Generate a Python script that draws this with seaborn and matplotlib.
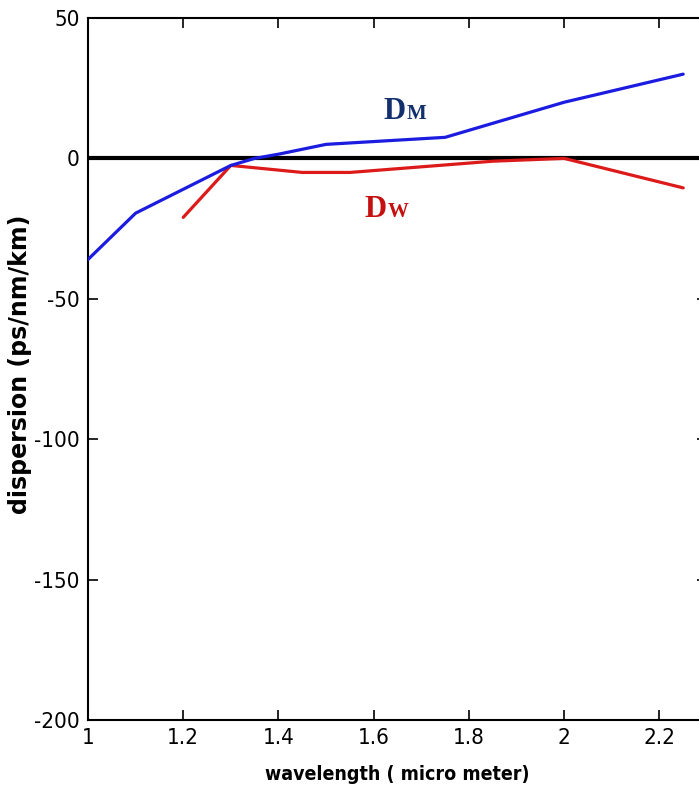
import matplotlib
matplotlib.use("Agg")
import matplotlib.pyplot as plt
import seaborn as sns
import pandas as pd

# dispersion data (ps/nm/km) vs wavelength (micro meter)
wl_m = [1.0, 1.1, 1.2, 1.3, 1.35, 1.4, 1.5, 1.75, 2.0, 2.25]
d_m = [-36, -19.5, -11, -2.5, 0, 1.5, 5, 7.5, 20, 30]

wl_w = [1.2, 1.3, 1.45, 1.55, 1.85, 2.0, 2.25]
d_w = [-21, -2.5, -5, -5, -1, 0, -10.5]

xticks = [1, 1.2, 1.4, 1.6, 1.8, 2, 2.2]
xtick_labels = ["1", "1.2", "1.4", "1.6", "1.8", "2", "2.2"]
yticks = [50, 0, -50, -100, -150, -200]

sns.set_style("ticks")
plt.rcParams["font.family"] = ["DejaVu Sans"]
plt.rcParams["axes.unicode_minus"] = False
plt.rcParams["text.color"] = "black"

df_m = pd.DataFrame({"wavelength": wl_m, "dispersion": d_m})
df_w = pd.DataFrame({"wavelength": wl_w, "dispersion": d_w})

fig = plt.figure(figsize=(6.99, 7.96), dpi=100)
ax = fig.add_axes([88 / 699, 76 / 796, 619 / 699, 702 / 796])

ax.axhline(0, color="black", lw=3, zorder=1)
sns.lineplot(data=df_m, x="wavelength", y="dispersion", color="#1c1ce0", lw=2.3, ax=ax, zorder=3)
sns.lineplot(data=df_w, x="wavelength", y="dispersion", color="#dd1a1a", lw=2.3, ax=ax, zorder=2)

ax.set_xlim(1, 2.3)
ax.set_ylim(-200, 50)
ax.set_xticks(xticks)
ax.set_xticklabels(xtick_labels)
ax.set_yticks(yticks)
ax.tick_params(direction="in", length=7, width=1.2, top=True, right=True,
               labelsize=16, pad=6, colors="black")
for lab in ax.get_xticklabels() + ax.get_yticklabels():
    lab.set_fontstretch("condensed")
for sp in ax.spines.values():
    sp.set_linewidth(1.5)
    sp.set_color("black")
    sp.set_visible(True)

ax.set_xlabel("wavelength ( micro meter)", fontsize=14, fontweight="bold",
              fontstretch="condensed", color="black")
ax.xaxis.set_label_coords(0.5, -0.064)
ax.set_ylabel("dispersion (ps/nm/km)", fontsize=17, fontweight="bold",
              color="black")
ax.yaxis.set_label_coords(-0.09, 0.507)

# curve labels
serif = ["Liberation Serif", "DejaVu Serif"]
ax.annotate("D", (1.62, 14), color="#12306e", fontsize=22, fontweight="bold",
            family=serif, ha="left", va="baseline")
ax.annotate("M", (1.62, 14), xytext=(17, 0), textcoords="offset points",
            color="#12306e", fontsize=15, fontweight="bold", family=serif,
            ha="left", va="baseline")
ax.annotate("D", (1.58, -21), color="#c41010", fontsize=22, fontweight="bold",
            family=serif, ha="left", va="baseline")
ax.annotate("W", (1.58, -21), xytext=(17, 0), textcoords="offset points",
            color="#c41010", fontsize=15, fontweight="bold", family=serif,
            ha="left", va="baseline")

plt.savefig("out.png", dpi=100)
plt.close()
